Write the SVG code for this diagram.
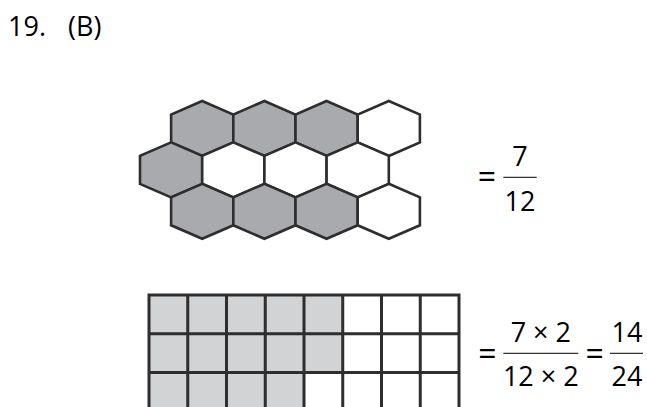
<svg xmlns="http://www.w3.org/2000/svg" xmlns:xlink="http://www.w3.org/1999/xlink" width="647" height="407" viewBox="0 0 647 407">
<style>
  text { font-family: "Open Sans", "Liberation Sans", sans-serif; font-size: 27px; fill: #000; }
  .eq { font-size: 32px; }
  .hx { stroke: #2e2e2e; stroke-width: 2.6; stroke-linejoin: miter; }
  .g { fill: #a8aaad; }
  .w { fill: #ffffff; }
  .cell { fill: #d2d3d5; }
  .gl { stroke: #2e2e2e; stroke-width: 3; fill: none; }
  .fl { stroke: #333; stroke-width: 1.3; }
  .m { text-anchor: middle; }
</style>
<defs>
  <polygon id="hex" points="0,-27.5 31.1,-14 31.1,14 0,27.5 -31.1,14 -31.1,-14"/>
</defs>
<rect width="647" height="407" fill="#ffffff"/>

<g id="title">
  <text x="8" y="36">19.</text>
  <text x="68" y="36">(B)</text>
</g>

<g id="hexagons">
  <g id="hex-r1-1"><use xlink:href="#hex" x="202.2" y="128.5" class="hx g"/></g>
  <g id="hex-r1-2"><use xlink:href="#hex" x="264.4" y="128.5" class="hx g"/></g>
  <g id="hex-r1-3"><use xlink:href="#hex" x="326.6" y="128.5" class="hx g"/></g>
  <g id="hex-r1-4"><use xlink:href="#hex" x="388.8" y="128.5" class="hx w"/></g>
  <g id="hex-r2-1"><use xlink:href="#hex" x="171.1" y="169.9" class="hx g"/></g>
  <g id="hex-r2-2"><use xlink:href="#hex" x="233.3" y="169.9" class="hx w"/></g>
  <g id="hex-r2-3"><use xlink:href="#hex" x="295.5" y="169.9" class="hx w"/></g>
  <g id="hex-r2-4"><use xlink:href="#hex" x="357.7" y="169.9" class="hx w"/></g>
  <g id="hex-r3-1"><use xlink:href="#hex" x="202.2" y="211.3" class="hx g"/></g>
  <g id="hex-r3-2"><use xlink:href="#hex" x="264.4" y="211.3" class="hx g"/></g>
  <g id="hex-r3-3"><use xlink:href="#hex" x="326.6" y="211.3" class="hx g"/></g>
  <g id="hex-r3-4"><use xlink:href="#hex" x="388.8" y="211.3" class="hx w"/></g>
</g>

<g id="fraction-1">
  <text x="487" y="188" class="m eq">=</text>
  <text x="520" y="166" class="m">7</text>
  <line x1="503.3" y1="177.3" x2="536.7" y2="177.3" class="fl"/>
  <text x="520" y="210.5" class="m">12</text>
</g>

<g id="grid">
  <rect x="149" y="295" width="193.75" height="38.7" class="cell"/>
  <rect x="149" y="333.7" width="193.75" height="38.7" class="cell"/>
  <rect x="149" y="372.4" width="155" height="40" class="cell"/>
  <path class="gl" d="M149,295 H459 M149,333.7 H459 M149,372.4 H459
    M149,293.5 V410 M187.75,293.5 V410 M226.5,293.5 V410 M265.25,293.5 V410 M304,293.5 V410
    M342.75,293.5 V410 M381.5,293.5 V410 M420.25,293.5 V410 M459,293.5 V410"/>
</g>

<g id="fraction-2">
  <text x="487.5" y="364.5" class="m eq">=</text>
  <text x="540.8" y="342" class="m">7 × 2</text>
  <line x1="503.3" y1="353.3" x2="578.3" y2="353.3" class="fl"/>
  <text x="540.8" y="385.5" class="m">12 × 2</text>
  <text x="594.7" y="364.5" class="m eq">=</text>
  <text x="627" y="342" class="m">14</text>
  <line x1="610" y1="353.3" x2="643" y2="353.3" class="fl"/>
  <text x="627" y="385.5" class="m">24</text>
</g>

<g id="connectors"></g>
</svg>
